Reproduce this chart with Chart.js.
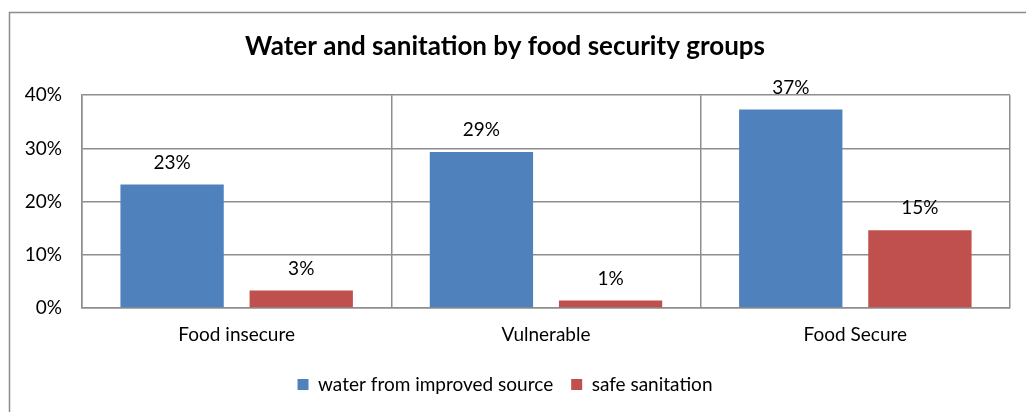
<!DOCTYPE html>
<html>
<head>
<meta charset="utf-8">
<script src="https://cdn.jsdelivr.net/npm/chart.js@4.4.0/dist/chart.umd.min.js"></script>
<style>
  html, body { margin: 0; padding: 0; background: #fff; }
  #wrap { width: 1026px; height: 412px; }
</style>
</head>
<body>
<div id="wrap"><canvas id="myChart" width="1026" height="412"></canvas></div>
<script>
var categories = ['Food insecure', 'Vulnerable', 'Food Secure'];
var waterValues = [23.2, 29.3, 37.3];
var sanitationValues = [3.3, 1.4, 14.6];
var yTicks = [0, 10, 20, 30, 40];

var FONT = 'Lato, "Open Sans", sans-serif';
var GRID = '#8e8e8e';

// outer frame of the chart object (only top and left edges visible)
var framePlugin = {
    id: 'frame',
    beforeDraw: function (chart) {
        var ctx = chart.ctx;
        ctx.save();
        ctx.strokeStyle = '#8c8c8c';
        ctx.lineWidth = 1.5;
        ctx.beginPath();
        ctx.moveTo(9.5, 412);
        ctx.lineTo(9.5, 12.5);
        ctx.lineTo(1026, 12.5);
        ctx.stroke();
        ctx.restore();
    }
};

// value labels above each bar
var valueLabels = {
    id: 'valueLabels',
    afterDatasetsDraw: function (chart) {
        var ctx = chart.ctx;
        ctx.save();
        ctx.font = '19px ' + FONT;
        ctx.fillStyle = '#000';
        ctx.textAlign = 'center';
        ctx.textBaseline = 'middle';
        chart.data.datasets.forEach(function (ds, i) {
            chart.getDatasetMeta(i).data.forEach(function (bar, j) {
                ctx.fillText(Math.round(ds.data[j]) + '%', bar.x, bar.y - 22);
            });
        });
        ctx.restore();
    }
};

var ctx = document.getElementById('myChart').getContext('2d');
var chart = new Chart(ctx, {
    type: 'bar',
    data: {
        labels: categories,
        datasets: [{
            label: 'water from improved source',
            data: waterValues,
            backgroundColor: '#4F81BD',
            categoryPercentage: 0.835,
            barPercentage: 0.8
        }, {
            label: 'safe sanitation',
            data: sanitationValues,
            backgroundColor: '#C0504D',
            categoryPercentage: 0.835,
            barPercentage: 0.8
        }]
    },
    options: {
        responsive: false,
        animation: false,
        layout: { padding: { top: 12, left: 0, right: 16, bottom: 8 } },
        plugins: {
            title: {
                display: true,
                text: 'Water and sanitation by food security groups',
                color: '#000',
                font: { family: FONT, size: 26, weight: 'bold' },
                padding: { top: 19, bottom: 33 }
            },
            legend: {
                position: 'bottom',
                labels: {
                    color: '#000',
                    font: { family: FONT, size: 19 },
                    boxWidth: 11,
                    boxHeight: 11,
                    padding: 18
                }
            },
            tooltip: { enabled: false }
        },
        scales: {
            x: {
                grid: { color: GRID, lineWidth: 1.5, offset: true, drawTicks: false },
                border: { color: GRID, width: 1.5 },
                ticks: { color: '#000', font: { family: FONT, size: 19 }, padding: 15 },
                afterFit: function (scale) { scale.height = 49; }
            },
            y: {
                min: 0,
                max: 40,
                afterBuildTicks: function (scale) {
                    scale.ticks = yTicks.map(function (v) { return { value: v }; });
                },
                grid: { color: GRID, lineWidth: 1.5, drawTicks: false },
                border: { color: GRID, width: 1.5 },
                ticks: {
                    color: '#000',
                    font: { family: FONT, size: 19 },
                    padding: 20,
                    callback: function (v) { return v + '%'; }
                },
                afterFit: function (scale) { scale.width = 82; }
            }
        }
    },
    plugins: [framePlugin, valueLabels]
});
</script>
</body>
</html>
